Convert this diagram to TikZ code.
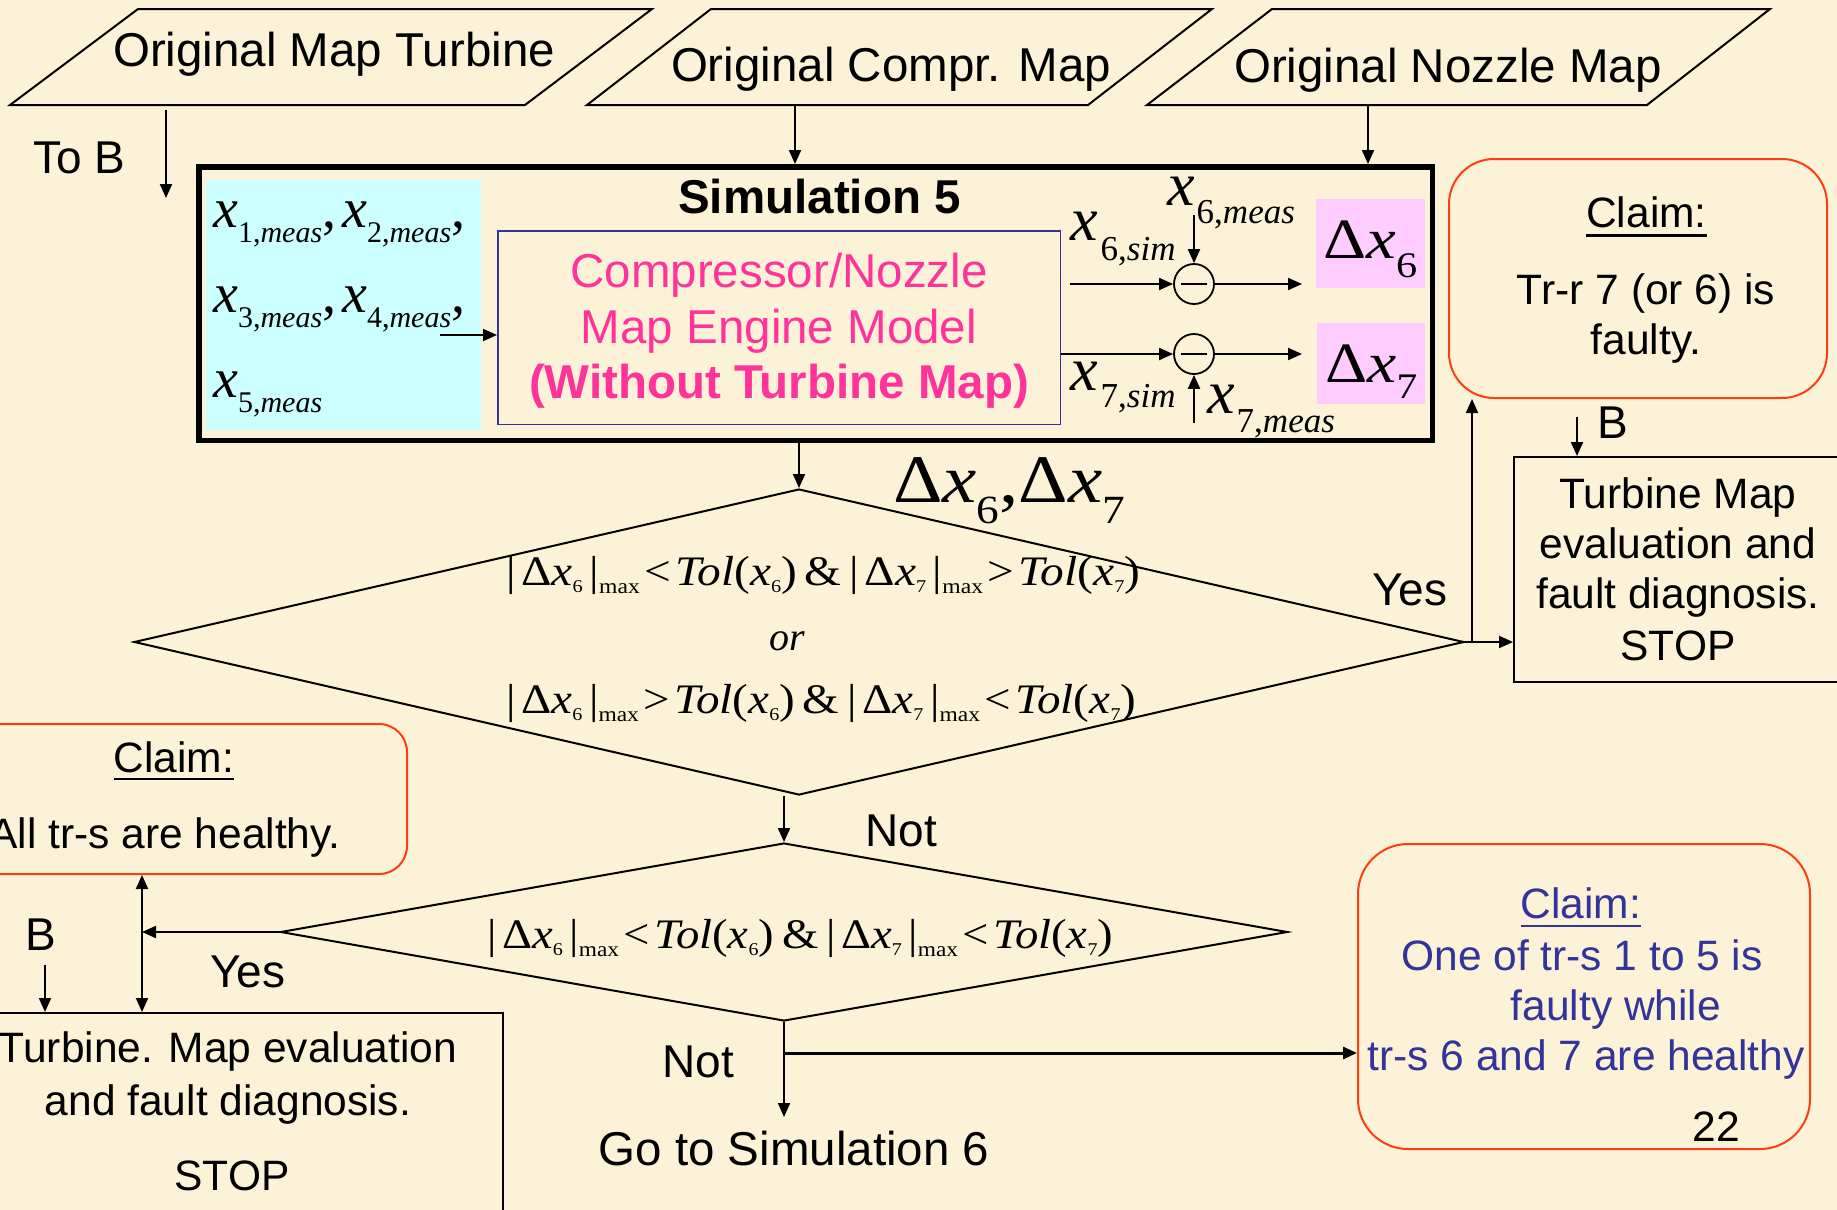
\documentclass[tikz,border=0pt]{standalone}
\usepackage{fontspec}
\usepackage{graphicx}
\setmainfont{Liberation Sans}
\newfontfamily\arial{Liberation Sans}
\newfontfamily\tms{Liberation Serif}
\usetikzlibrary{arrows.meta,shapes.geometric}
\newcommand\fs[1]{\fontsize{#1}{#1}\selectfont}
\newcommand\hfit[2]{\resizebox{#1}{\height}{#2}}
\newcommand\dabs[1]{|\kern5pt Δ\textit{x}\raisebox{-7pt}{\fs{18}#1}\kern6pt|\raisebox{-8pt}{\fs{21}max}}
\newcommand\tolx[1]{\textit{Tol}(\textit{x}\raisebox{-7pt}{\fs{18}#1})}
\definecolor{bg}{RGB}{251,242,216}
\definecolor{cyanb}{RGB}{204,255,255}
\definecolor{pinkb}{RGB}{255,204,255}
\definecolor{blueb}{RGB}{51,51,153}
\definecolor{magb}{RGB}{255,51,153}
\definecolor{redb}{RGB}{255,60,20}
\begin{document}
\begin{tikzpicture}[x=1pt,y=-1pt,
  arr/.style={-{Triangle[length=14pt,width=12pt]}, line width=2pt},
  dbl/.style={{Triangle[length=14pt,width=12pt]}-{Triangle[length=14pt,width=12pt]}, line width=2pt},
  bx/.style={draw, line width=2pt, inner sep=0pt},
  claim/.style={draw=redb, line width=2pt, rounded corners=#1, inner sep=0pt},
  tA/.style={inner sep=0pt, anchor=base, font=\arial\fs{47.5}},
  tS/.style={inner sep=0pt, anchor=base, font=\arial\fs{42.5}},
  tL/.style={inner sep=0pt, anchor=base, font=\arial\fs{46}},
  mth/.style={inner sep=0pt, anchor=base west, font=\tms},
  mthc/.style={inner sep=0pt, anchor=base, font=\tms},
  dia/.style={diamond, draw, line width=2pt, inner sep=0pt},
  uline/.style={line width=2.5pt}
]
\useasboundingbox (0,0) rectangle (1837,1210);
\clip (0,0) rectangle (1837,1210);
\fill[bg] (0,0) rectangle (1837,1210);

% parallelograms
\draw[line width=2pt] (10,105) -- (138,9) -- (652,9) -- (525,105) -- cycle;
\draw[line width=2pt] (587,105) -- (711,9) -- (1212,9) -- (1088,105) -- cycle;
\draw[line width=2pt] (1147,105) -- (1272,9) -- (1770,9) -- (1647,105) -- cycle;
\node[tA] (p1t) at (334,66) {Original Map Turbine};
\node[tA] (p2t) at (891,81) {Original Compr. Map};
\node[tA] (p3t) at (1448,82) {Original Nozzle Map};
\coordinate (p2b) at (795,105);
\coordinate (p3b) at (1368,105);

% To B
\node[tL] (tob) at (79.5,173) {To B};
\coordinate (tob1) at (166,110);
\coordinate (tob2) at (166,198);
\draw[arr] (tob1) -- (tob2);

% simulation box
\node[fill=cyanb, inner sep=0pt, minimum width=275pt, minimum height=250pt] (cyan) at (343.5,305) {};
\node[draw, line width=5.5pt, inner sep=0pt, minimum width=1233.5pt, minimum height=273.5pt] (sim) at (815.5,303.5) {};
\node[draw=blueb, line width=1.5pt, inner sep=0pt, minimum width=562.5pt, minimum height=193.5pt] (blue) at (779,327.5) {};
\draw[arr] (p2b) -- (p2b |- sim.north);
\draw[arr] (p3b) -- (p3b |- sim.north);
\node[inner sep=0pt, anchor=base, font=\arial\bfseries\fs{47.5}] (simt) at (819.5,213) {Simulation 5};
\node[tA, text=magb] (m1) at (779,287) {Compressor/Nozzle};
\node[tA, text=magb] (m2) at (779,343) {Map Engine Model};
\node[tA, text=magb, font=\arial\bfseries\fs{47.5}] (m3) at (779,398) {(Without Turbine Map)};

\node[mth] (r1) at (213,227) {\fs{56}\textit{x}\raisebox{-15pt}{\fs{30}1,\textit{meas}},\kern6pt\textit{x}\raisebox{-15pt}{\fs{30}2,\textit{meas}},};
\node[mth] (r2) at (213,312) {\fs{56}\textit{x}\raisebox{-15pt}{\fs{30}3,\textit{meas}},\kern6pt\textit{x}\raisebox{-15pt}{\fs{30}4,\textit{meas}},};
\node[mth] (r3) at (213,397) {\fs{56}\textit{x}\raisebox{-15pt}{\fs{30}5,\textit{meas}}};
\coordinate (cy) at (440,335);
\draw[arr] (cy) -- (cy -| blue.west);

% subtractors
\node[circle, draw, line width=1.8pt, minimum size=40pt, inner sep=0pt] (c1) at (1194,284) {};
\node[circle, draw, line width=1.8pt, minimum size=40pt, inner sep=0pt] (c2) at (1194,354) {};
\draw[line width=2pt] ([xshift=-13pt]c1.center) -- ([xshift=13pt]c1.center);
\draw[line width=2pt] ([xshift=-13pt]c2.center) -- ([xshift=13pt]c2.center);
\coordinate (a6s) at (1070,284);
\coordinate (a6o) at (1302,284);
\coordinate (a6m) at (1194,215);
\coordinate (a7o) at (1302,354);
\coordinate (a7m) at (1194,423);
\draw[arr] (a6s) -- (c1.west);
\draw[arr] (c1.east) -- (a6o);
\draw[arr] (a6m) -- (c1.north);
\draw[arr] (c2.west -| blue.east) -- (c2.west);
\draw[arr] (c2.east) -- (a7o);
\draw[arr] (a7m) -- (c2.south);
\node[mth] (x6s) at (1070,240) {\fs{62}\textit{x}\kern3pt\raisebox{-20pt}{\fs{35}6,\textit{sim}}};
\node[mth] (x6m) at (1167,205) {\fs{62}\textit{x}\kern2pt\raisebox{-18pt}{\fs{35}6,\textit{meas}}};
\node[mth] (x7s) at (1070,390) {\fs{62}\textit{x}\kern3pt\raisebox{-17pt}{\fs{35}7,\textit{sim}}};
\node[mth] (x7m) at (1207,413) {\fs{62}\textit{x}\kern2pt\raisebox{-19pt}{\fs{35}7,\textit{meas}}};

% pink boxes
\node[fill=pinkb, inner sep=0pt, minimum width=109pt, minimum height=89pt] (pk6) at (1370.5,243.5) {};
\node[fill=pinkb, inner sep=0pt, minimum width=108pt, minimum height=81pt] (pk7) at (1371,363.5) {};
\node[mth] (dx6) at (1323,258) {\hfit{94pt}{\fs{57}Δ\textit{x}\raisebox{-19pt}{\fs{36}6}}};
\node[mth] (dx7) at (1325,382) {\hfit{92pt}{\fs{57}Δ\textit{x}\raisebox{-16pt}{\fs{36}7}}};

% first decision
\node[dia, minimum width=1330pt, minimum height=306pt] (d1) at (799,642) {};
\draw[arr] (d1.north |- sim.south) -- (d1.north);
\node[mth] (dx67) at (893,502) {\hfit{232pt}{\fs{68}Δ\textit{x}\raisebox{-21pt}{\fs{40}6},Δ\textit{x}\raisebox{-21pt}{\fs{40}7}}};
\node[mth] (f1) at (506,585) {\hfit{634pt}{\fs{42}\dabs{6}\kern4pt<\kern4pt\tolx{6}\kern7pt\&\kern7pt\dabs{7}\kern4pt>\kern4pt\tolx{7}}};
\node[mthc] (f2) at (787,650) {\fs{40}\textit{or}};
\node[mth] (f3) at (506,713) {\hfit{630pt}{\fs{42}\dabs{6}\kern4pt>\kern4pt\tolx{6}\kern7pt\&\kern7pt\dabs{7}\kern4pt<\kern4pt\tolx{7}}};
\node[tL] (yesR) at (1410,605) {Yes};

% claim 1 and turbine map box
\node[claim=45pt, minimum width=378pt, minimum height=239pt] (cl1) at (1638,278.5) {};
\node[tS] (cl1a) at (1646.5,227.5) {Claim:};
\draw[uline] ([yshift=-8pt]cl1a.base west) -- ([yshift=-8pt]cl1a.base east);
\node[tS] (cl1b) at (1646,304) {Tr-r 7 (or 6) is};
\node[tS] (cl1c) at (1646,354) {faulty.};
\node[bx, minimum width=348pt, minimum height=225pt] (tm) at (1688,569.5) {};
\node[tS] (tm1) at (1678,508) {Turbine Map};
\node[tS] (tm2) at (1678,558) {evaluation and};
\node[tS] (tm3) at (1678,608) {fault diagnosis.};
\node[tS] (tm4) at (1678,660) {STOP};
\node[tL] (bR) at (1612.5,438) {B};
\coordinate (bRa) at (1577,417);
\draw[arr] (bRa) -- (bRa |- tm.north);
\coordinate (vy) at (1472,642);
\draw[arr] (vy) -- (vy |- cl1.south);
\draw[arr] (d1.east) -- (d1.east -| tm.west);

% second decision
\node[dia, minimum width=1007pt, minimum height=178pt] (d2) at (784,932) {};
\draw[arr] (d1.south -| d2.north) -- (d2.north);
\node[tL] (notU) at (901,846) {Not};
\node[mth] (g1) at (487,948) {\hfit{626pt}{\fs{42}\dabs{6}\kern4pt<\kern4pt\tolx{6}\kern7pt\&\kern7pt\dabs{7}\kern4pt<\kern4pt\tolx{7}}};

% claim 2 and bottom-left box
\node[claim=28pt, minimum width=466pt, minimum height=150pt] (cl2) at (174,799) {};
\node[tS] (cl2a) at (174,772) {Claim:};
\draw[uline] ([yshift=-7pt]cl2a.base west) -- ([yshift=-7pt]cl2a.base east);
\node[tS] (cl2b) at (165,848) {All tr-s are healthy.};
\node[bx, minimum width=532pt, minimum height=226pt] (bl) at (237,1126) {};
\node[tS] (bl1) at (228,1062) {Turbine. Map evaluation};
\node[tS] (bl2) at (228,1115) {and fault diagnosis.};
\node[tS] (bl3) at (232,1190) {STOP};
\coordinate (vx) at (142,932);
\draw[dbl] (vx |- cl2.south) -- (vx |- bl.north);
\draw[arr] (d2.west) -- (vx);
\node[tL] (bL) at (40.5,950) {B};
\coordinate (bLa) at (45,965);
\draw[arr] (bLa) -- (bLa |- bl.north);
\node[tL] (yesL) at (248,987) {Yes};

% bottom
\coordinate (gotop) at (784,1117);
\draw[arr] (d2.south) -- (gotop);
\node[tA] (goto) at (794,1165) {Go to Simulation 6};
\node[tL] (notL) at (698.5,1077) {Not};
\node[claim=50pt, minimum width=452pt, minimum height=305pt] (cl3) at (1584,996.5) {};
\coordinate (nb) at (784,1053);
\draw[arr, line width=3pt] (nb) -- (nb -| cl3.west);
\node[tS, text=blueb] (cl3a) at (1581,918) {Claim:};
\draw[uline, blueb] ([yshift=-8pt]cl3a.base west) -- ([yshift=-8pt]cl3a.base east);
\node[tS, text=blueb] (cl3b) at (1582,970) {One of tr-s 1 to 5 is};
\node[tS, text=blueb] (cl3c) at (1616,1020) {faulty while};
\node[tS, text=blueb] (cl3d) at (1586,1070) {tr-s 6 and 7 are healthy};
\node[tS] (pg) at (1716,1141) {22};
\end{tikzpicture}
\end{document}
